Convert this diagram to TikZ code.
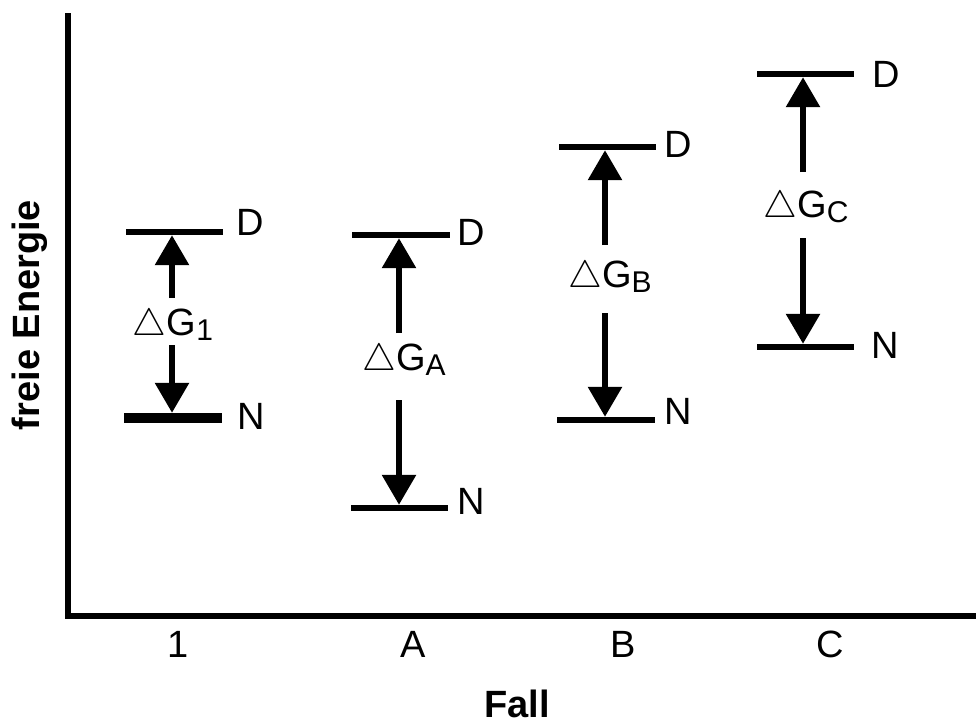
\RequirePackage{fix-cm}
\documentclass[tikz,border=0pt]{standalone}
\usepackage{fontspec}
\setmainfont{Liberation Sans}
\usetikzlibrary{arrows.meta,positioning}
\newcommand{\dG}[1]{$\triangle$G\raisebox{-5pt}{\fontsize{30}{30}\selectfont #1}}
\tikzset{
    niveau/.style = {fill=black, rectangle, inner sep=0pt, minimum height=6pt, minimum width=97pt},
    pfeil/.style = {line width=6pt, -{Triangle[length=30pt,width=33pt]}},
    schrift/.style = {inner sep=0pt, font=\fontsize{38}{40}\selectfont},
    titel/.style = {inner sep=0pt, font=\fontsize{38}{40}\selectfont\bfseries},
}

\begin{document}
\begin{tikzpicture}[x=1pt, y=-1pt]
\useasboundingbox (0,0) rectangle (976,724);
% Achsen
\coordinate (oben) at (68,13);
\coordinate (ursprung) at (68,616);
\coordinate (rechts) at (976,616);
\draw[line width=6pt, line join=miter] (oben) -- (ursprung) -- (rechts);
\node[titel, rotate=90] (yachse) at (30,315) {freie Energie};
\node[titel] (xachse) at (517,704) {Fall};
\node[schrift] (fall1) at (178,644) {1};
\node[schrift] (fallA) at (413,644) {A};
\node[schrift] (fallB) at (623,644) {B};
\node[schrift] (fallC) at (830,644) {C};

% Fall 1
\node[niveau] (D1) at (174.5,232) {};
\node[niveau, minimum height=10pt, minimum width=98pt] (N1) at (173,418) {};
\node[schrift, right=13pt, yshift=10pt] (D1t) at (D1.east) {D};
\node[schrift, right=15pt, yshift=2pt] (N1t) at (N1.east) {N};
\node[schrift, anchor=base] (G1) at (173,335) {\dG{1}};
\coordinate (o1) at (172,298);
\coordinate (u1) at (172,345);
\draw[pfeil] (o1) -- (o1 |- D1.south);
\draw[pfeil] (u1) -- (u1 |- N1.north);

% Fall A
\node[niveau, minimum width=98pt] (DA) at (401,235) {};
\node[niveau] (NA) at (399.5,508) {};
\node[schrift, right=7pt, yshift=3pt] (DAt) at (DA.east) {D};
\node[schrift, right=9pt, yshift=7pt] (NAt) at (NA.east) {N};
\node[schrift, anchor=base] (GA) at (404,370) {\dG{A}};
\coordinate (oA) at (399,333);
\coordinate (uA) at (399,400);
\draw[pfeil] (oA) -- (oA |- DA.south);
\draw[pfeil] (uA) -- (uA |- NA.north);

% Fall B
\node[niveau] (DB) at (607.5,147) {};
\node[niveau, minimum width=98pt] (NB) at (606,420) {};
\node[schrift, right=8pt, yshift=3pt] (DBt) at (DB.east) {D};
\node[schrift, right=9pt, yshift=9pt] (NBt) at (NB.east) {N};
\node[schrift, anchor=base] (GB) at (610,287) {\dG{B}};
\coordinate (oB) at (605,245);
\coordinate (uB) at (605,313);
\draw[pfeil] (oB) -- (oB |- DB.south);
\draw[pfeil] (uB) -- (uB |- NB.north);

% Fall C
\node[niveau] (DC) at (805.5,74) {};
\node[niveau] (NC) at (805.5,347) {};
\node[schrift, right=18pt] (DCt) at (DC.east) {D};
\node[schrift, right=17pt, yshift=2pt] (NCt) at (NC.east) {N};
\node[schrift, anchor=base] (GC) at (806,217) {\dG{C}};
\coordinate (oC) at (803,172);
\coordinate (uC) at (803,238);
\draw[pfeil] (oC) -- (oC |- DC.south);
\draw[pfeil] (uC) -- (uC |- NC.north);
\end{tikzpicture}
\end{document}
